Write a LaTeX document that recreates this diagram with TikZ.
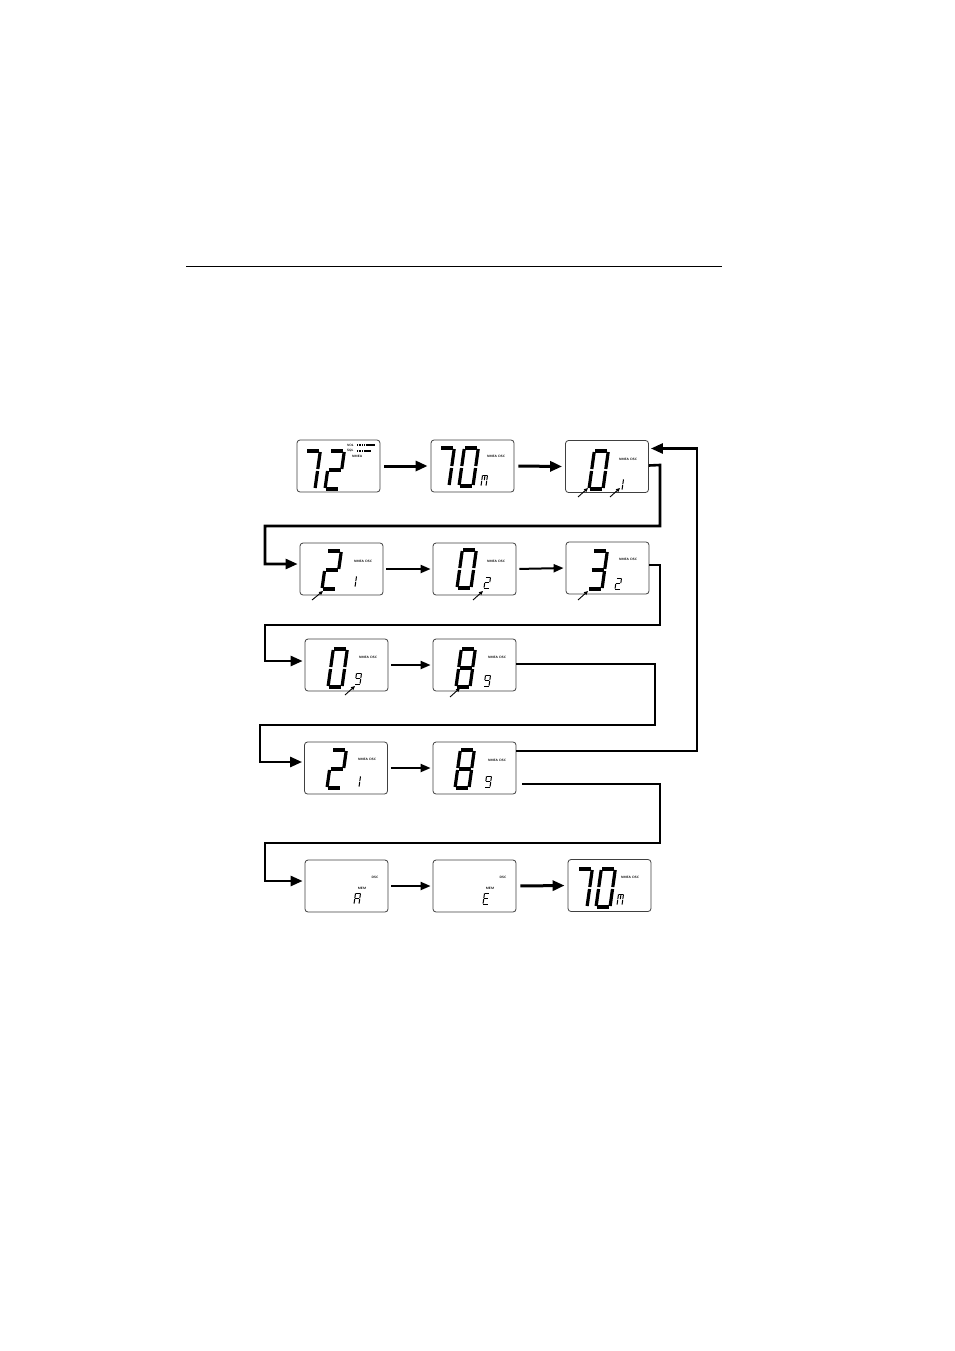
\documentclass[tikz,border=0pt]{standalone}
\usetikzlibrary{arrows.meta}
\usetikzlibrary{positioning}

% segment lists for the seven-segment characters
\def\dzero{tl/tr,tr/mr,mr/br,bl/br,bl/ml,ml/tl}
\def\done{tr/mr,mr/br}
\def\dtwo{tl/tr,tr/mr,ml/mr,bl/ml,bl/br}
\def\dthree{tl/tr,tr/mr,ml/mr,mr/br,bl/br}
\def\dseven{tl/tr,tr/mr,mr/br}
\def\deight{tl/tr,tr/mr,mr/br,bl/br,bl/ml,ml/tl,ml/mr}
\def\dnine{tl/tr,tr/mr,mr/br,bl/br,ml/tl,ml/mr}
\def\dA{tl/tr,tr/mr,mr/br,bl/ml,ml/tl,ml/mr}
\def\dE{tl/tr,ml/tl,bl/ml,bl/br,ml/mr}
\def\dm{tl/tr,tl/ml,ml/bl,tr/mr,mr/br,tc/bc}

\newcommand{\lcdchar}[5]{% style, bottom left, width, height, segments
  \begin{scope}[shift={#2}, xslant=0.14]
    \coordinate (bl) at (0,0);
    \coordinate (ml) at (0,-#4/2);
    \coordinate (tl) at (0,-#4);
    \coordinate (br) at (#3,0);
    \coordinate (mr) at (#3,-#4/2);
    \coordinate (tr) at (#3,-#4);
    \coordinate (tc) at (#3/2,-#4);
    \coordinate (bc) at (#3/2,-#4/2);
    \foreach \p/\q in #5 {\draw[#1] (\p) -- (\q);}
  \end{scope}}
\newcommand{\bigdigit}[2]{\lcdchar{bigseg}{#1}{14}{38}{#2}}
\newcommand{\smalldigit}[2]{\lcdchar{smallseg}{#1}{5}{11}{#2}}

\tikzset{
  lcd/.style={draw=black!75, line width=0.8pt, rounded corners=3pt, fill=white,
    minimum width=83pt, minimum height=52pt, inner sep=0pt},
  bigseg/.style={line width=3.2pt, shorten <=1pt, shorten >=1pt},
  smallseg/.style={line width=1pt, shorten <=0.4pt, shorten >=0.4pt},
  tag/.style={font=\fontsize{3.2}{3.5}\selectfont\sffamily\bfseries, inner sep=0pt},
  flow/.style={line width=2pt, -{Triangle[length=10pt,width=8pt]},
    shorten <=3pt, shorten >=2pt},
  flowthick/.style={line width=3pt, -{Triangle[length=12pt,width=10pt]},
    shorten <=4pt, shorten >=3pt},
  turn/.style={line width=2.6pt, -{Triangle[length=12pt,width=10pt]}, shorten >=2pt},
  pointer/.style={line width=0.9pt, -{Triangle[length=4pt,width=3.5pt]}},
}

\begin{document}
\begin{tikzpicture}[x=1pt, y=-1pt]
  \useasboundingbox (0,0) rectangle (954,1351);

  \draw[line width=0.9pt] (186,266) -- (722,266);

  % displays
  \node[lcd] (b11) at (338.5,466) {};
  \node[lcd] (b12) at (472.5,466) {};
  \node[lcd] (b13) at (607,466.5) {};
  \node[lcd] (b21) at (341.5,569) {};
  \node[lcd] (b22) at (474.5,569) {};
  \node[lcd] (b23) at (607.5,568) {};
  \node[lcd] (b31) at (346.5,665) {};
  \node[lcd] (b32) at (474.5,665) {};
  \node[lcd] (b41) at (346,768) {};
  \node[lcd] (b42) at (474.5,768) {};
  \node[lcd] (b51) at (346.5,886) {};
  \node[lcd] (b52) at (474.5,886) {};
  \node[lcd] (b53) at (609.5,885.5) {};

  % row 1
  \bigdigit{(301,489)}{\dseven}
  \bigdigit{(325,489)}{\dtwo}
  \node[tag, anchor=west] (vol) at (347,445) {VOL};
  \node[tag, anchor=west] (sql) at (347,451) {SQL};
  \node[tag, anchor=west] (nm11) at (352,456.5) {NMEA};
  \draw[line width=2.2pt, dash pattern=on 1pt off 0.7pt] (357,445) -- (366,445);
  \draw[line width=2.2pt] (366,445) -- (375,445);
  \draw[line width=2.2pt, dash pattern=on 1pt off 0.7pt] (357,451) -- (364,451);
  \draw[line width=2.2pt] (364,451) -- (371,451);

  \bigdigit{(435,486)}{\dseven}
  \bigdigit{(459,486)}{\dzero}
  \smalldigit{(481,486)}{\dm}
  \node[tag] (nm12) at (496,456) {NMEA DSC};

  \bigdigit{(589,489)}{\dzero}
  \smalldigit{(617,490)}{\done}
  \node[tag] (nm13) at (628,459) {NMEA DSC};
  \draw[pointer] (578,497) -- (588,488);
  \draw[pointer] (610,497) -- (620,488);

  % row 2
  \bigdigit{(322,589)}{\dtwo}
  \smalldigit{(350,587)}{\done}
  \node[tag] (nm21) at (363,561) {NMEA DSC};
  \draw[pointer] (312,600) -- (323,591);

  \bigdigit{(457,588)}{\dzero}
  \smalldigit{(484,588)}{\dtwo}
  \node[tag] (nm22) at (496,561) {NMEA DSC};
  \draw[pointer] (473,600) -- (483,591);

  \bigdigit{(588,589)}{\dthree}
  \smalldigit{(615,589)}{\dtwo}
  \node[tag] (nm23) at (628,559) {NMEA DSC};
  \draw[pointer] (578,600) -- (588,591);

  % row 3
  \bigdigit{(328,687)}{\dzero}
  \smalldigit{(355,684)}{\dnine}
  \node[tag] (nm31) at (368,657) {NMEA DSC};
  \draw[pointer] (345,695) -- (355,686);

  \bigdigit{(456,687)}{\deight}
  \smalldigit{(484,686)}{\dnine}
  \node[tag] (nm32) at (497,657) {NMEA DSC};
  \draw[pointer] (450,697) -- (460,688);

  % row 4
  \bigdigit{(327,788)}{\dtwo}
  \smalldigit{(354,787)}{\done}
  \node[tag] (nm41) at (367,759) {NMEA DSC};

  \bigdigit{(455,788)}{\deight}
  \smalldigit{(485,787)}{\dnine}
  \node[tag] (nm42) at (497,760) {NMEA DSC};

  % row 5
  \smalldigit{(354,904)}{\dA}
  \node[tag] (dsc51) at (375,877) {DSC};
  \node[tag] (mem51) at (362,888) {MEM};

  \smalldigit{(483,904)}{\dE}
  \node[tag] (dsc52) at (503,877) {DSC};
  \node[tag] (mem52) at (490,888) {MEM};

  \bigdigit{(573,907)}{\dseven}
  \bigdigit{(596,907)}{\dzero}
  \smalldigit{(617,905)}{\dm}
  \node[tag] (nm53) at (630,877) {NMEA DSC};

  % arrows in the rows
  \draw[flowthick] (b11.east) -- (b12.west);
  \draw[flowthick] (b12.east) -- (b13.west);
  \draw[flow] (b21.east) -- (b22.west);
  \draw[flow] (b22.east) -- (b23.west);
  \draw[flow] (b31.east) -- (b32.west);
  \draw[flow] (b41.east) -- (b42.west);
  \draw[flow] (b51.east) -- (b52.west);
  \draw[flowthick] (b52.east) -- (b53.west);

  % lines from row to row
  \draw[turn] ([yshift=1pt]b13.east) -- (660,465) |- (265,526) |- ([yshift=5pt]b21.west);
  \draw[turn] ([yshift=3pt]b23.east) -- (660,565) |- (265,625) |- ([yshift=4pt]b31.west);
  \draw[turn] ([yshift=1pt]b32.east) -- (655,664) |- (260,725) |- ([yshift=6pt]b41.west);
  \draw[turn] ([xshift=6pt,yshift=-16pt]b42.east) -- (660,784) |- (265,843) |- ([yshift=5pt]b51.west);
  \draw[turn] ([yshift=17pt]b42.east) -| (697,600) |- ([yshift=18pt]b13.east);
\end{tikzpicture}
\end{document}
